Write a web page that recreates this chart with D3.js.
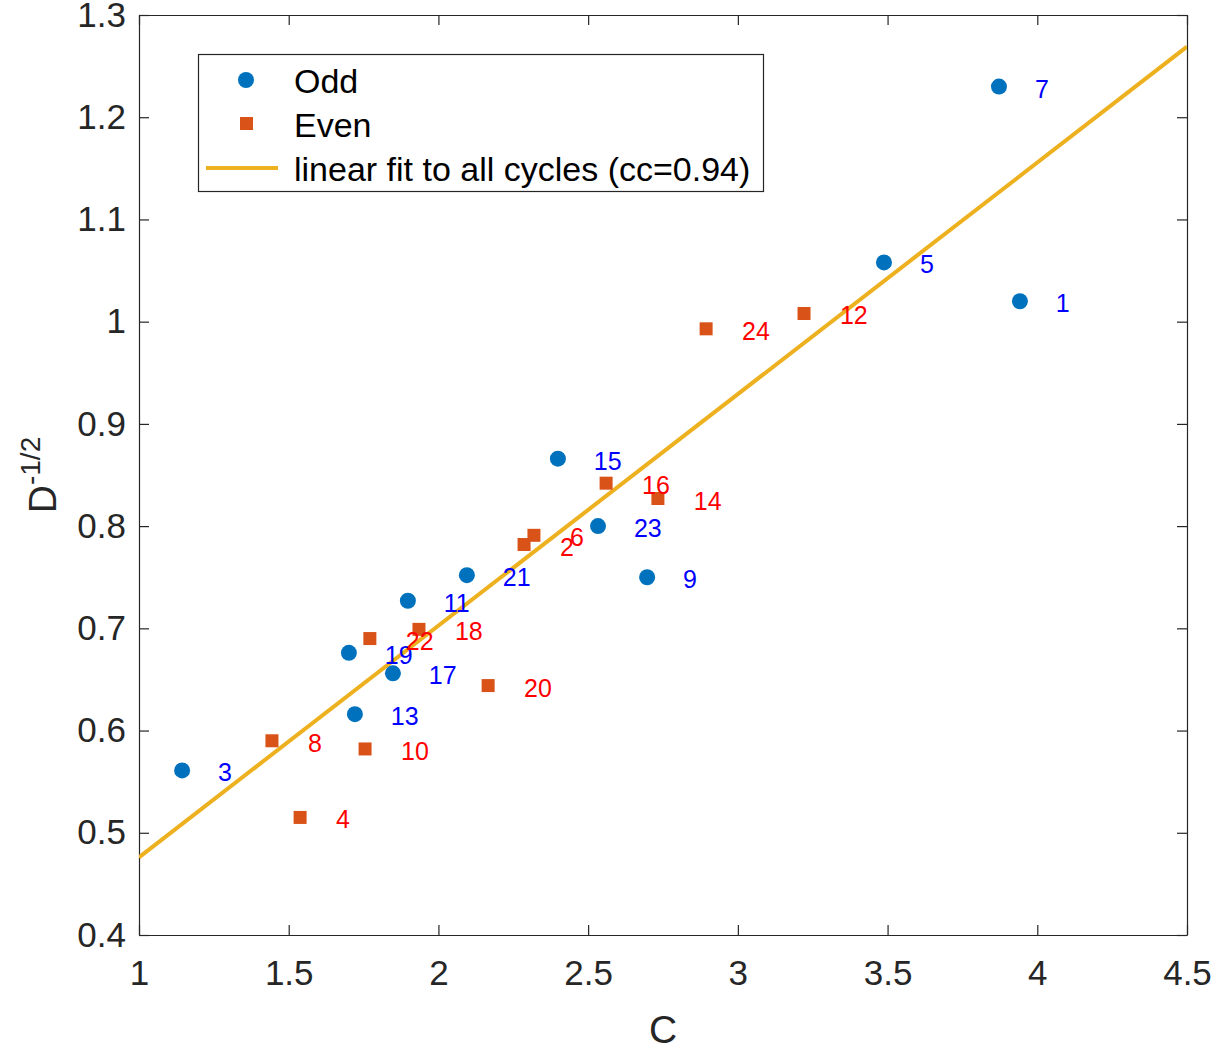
<!DOCTYPE html>
<html>
<head>
<meta charset="utf-8">
<script src="https://cdn.jsdelivr.net/npm/d3@7"></script>
<style>
  body { margin: 0; background: #fff; }
  text { font-family: "Liberation Sans", Arial, sans-serif; }
</style>
</head>
<body>
<div id="chart"></div>
<script>
// Odd cycles
const oddCycles = [1, 3, 5, 7, 9, 11, 13, 15, 17, 19, 21, 23];
const oddC = [3.942, 1.144, 3.488, 3.872, 2.697, 1.898, 1.721, 2.399, 1.848, 1.701, 2.095, 2.533];
const oddD = [1.020, 0.561, 1.058, 1.230, 0.750, 0.727, 0.616, 0.866, 0.656, 0.676, 0.752, 0.800];

// Even cycles
const evenCycles = [2, 4, 6, 8, 10, 12, 14, 16, 18, 20, 22, 24];
const evenC = [2.286, 1.538, 2.319, 1.444, 1.755, 3.221, 2.733, 2.560, 1.935, 2.166, 1.771, 2.894];
const evenD = [0.782, 0.515, 0.791, 0.590, 0.582, 1.008, 0.827, 0.842, 0.699, 0.644, 0.690, 0.993];

// Linear fit end points
const fitC = [1, 4.5];
const fitD = [0.476, 1.269];

const xTicks = [1, 1.5, 2, 2.5, 3, 3.5, 4, 4.5];
const yTicks = [0.4, 0.5, 0.6, 0.7, 0.8, 0.9, 1, 1.1, 1.2, 1.3];

const LEGEND_LABELS = ["Odd", "Even", "linear fit to all cycles (cc=0.94)"];
const LABEL_OFFSET = 0.12;

const AXIS_COLOR = "#262626";
const ODD_COLOR = "#0072BD";
const EVEN_COLOR = "#D95319";
const FIT_COLOR = "#EDB120";

const TICK_FONT = 35;
const LABEL_FONT = 39;

const width = 1231, height = 1050;
const margin = {left: 139, right: 44, top: 15, bottom: 115};

const svg = d3.select("#chart")
    .append("svg")
    .attr("width", width)
    .attr("height", height);

const x = d3.scaleLinear().domain([1, 4.5]).range([margin.left, width - margin.right]);
const y = d3.scaleLinear().domain([0.4, 1.3]).range([height - margin.bottom, margin.top]);

// Axes with inward ticks on all four sides
const tickLen = 10;
const fmt = d => d3.format("")(+d.toFixed(1));

svg.append("g")
    .attr("transform", `translate(0,${y.range()[0]})`)
    .call(d3.axisBottom(x).tickValues(xTicks).tickSizeInner(-tickLen).tickSizeOuter(0).tickPadding(25).tickFormat(fmt))
    .call(g => g.selectAll("text").attr("font-size", TICK_FONT));
svg.append("g")
    .attr("transform", `translate(0,${y.range()[1]})`)
    .call(d3.axisTop(x).tickValues(xTicks).tickSizeInner(-tickLen).tickSizeOuter(0).tickFormat(""));
svg.append("g")
    .attr("transform", `translate(${x.range()[0]},0)`)
    .call(d3.axisLeft(y).tickValues(yTicks).tickSizeInner(-tickLen).tickSizeOuter(0).tickPadding(13).tickFormat(fmt))
    .call(g => g.selectAll("text").attr("font-size", TICK_FONT));
svg.append("g")
    .attr("transform", `translate(${x.range()[1]},0)`)
    .call(d3.axisRight(y).tickValues(yTicks).tickSizeInner(-tickLen).tickSizeOuter(0).tickFormat(""));

svg.selectAll(".domain, .tick line").attr("stroke", AXIS_COLOR).attr("stroke-width", 1.2);
svg.selectAll(".tick text").attr("fill", AXIS_COLOR).attr("font-family", "Liberation Sans, Arial, sans-serif");

// Axis labels
svg.append("text")
    .attr("x", (x.range()[0] + x.range()[1]) / 2)
    .attr("y", 1043)
    .attr("text-anchor", "middle")
    .attr("font-size", LABEL_FONT)
    .attr("fill", AXIS_COLOR)
    .text("C");

const yLab = svg.append("text")
    .attr("transform", `translate(56,${(y.range()[0] + y.range()[1]) / 2}) rotate(-90)`)
    .attr("text-anchor", "middle")
    .attr("font-size", LABEL_FONT)
    .attr("fill", AXIS_COLOR);
yLab.append("tspan").text("D");
yLab.append("tspan").attr("dy", -16).attr("font-size", 28).text("-1/2");

// Plot area clip
svg.append("clipPath").attr("id", "plotClip")
    .append("rect")
    .attr("x", x.range()[0]).attr("y", y.range()[1])
    .attr("width", x.range()[1] - x.range()[0])
    .attr("height", y.range()[0] - y.range()[1]);

// Fit line
svg.append("path")
    .datum(fitC.map((c, i) => [c, fitD[i]]))
    .attr("clip-path", "url(#plotClip)")
    .attr("d", d3.line().x(d => x(d[0])).y(d => y(d[1])))
    .attr("fill", "none")
    .attr("stroke", FIT_COLOR)
    .attr("stroke-width", 4);

const oddData = oddCycles.map((n, i) => ({n, c: oddC[i], d: oddD[i]}));
const evenData = evenCycles.map((n, i) => ({n, c: evenC[i], d: evenD[i]}));

// Odd markers
svg.selectAll(".odd")
    .data(oddData)
    .enter()
    .append("circle")
    .attr("class", "odd")
    .attr("cx", d => x(d.c))
    .attr("cy", d => y(d.d))
    .attr("r", 8)
    .attr("fill", ODD_COLOR);

// Even markers
svg.selectAll(".even")
    .data(evenData)
    .enter()
    .append("rect")
    .attr("class", "even")
    .attr("x", d => x(d.c) - 6.5)
    .attr("y", d => y(d.d) - 6.5)
    .attr("width", 13)
    .attr("height", 13)
    .attr("fill", EVEN_COLOR);

// Cycle number labels
function drawLabels(data, cls, color) {
    svg.selectAll(`.${cls}`)
        .data(data)
        .enter()
        .append("text")
        .attr("class", cls)
        .attr("x", d => x(d.c + LABEL_OFFSET))
        .attr("y", d => y(d.d))
        .attr("dy", "0.44em")
        .attr("font-size", 25)
        .attr("fill", color)
        .text(d => d.n);
}
drawLabels(oddData, "oddLabel", "#0000ff");
drawLabels(evenData, "evenLabel", "#ff0000");

// Legend
const legend = svg.append("g");
legend.append("rect")
    .attr("x", 198.5).attr("y", 54.5)
    .attr("width", 565).attr("height", 137)
    .attr("fill", "#fff")
    .attr("stroke", AXIS_COLOR)
    .attr("stroke-width", 1.2);
legend.append("circle").attr("cx", 246).attr("cy", 80).attr("r", 8).attr("fill", ODD_COLOR);
legend.append("rect").attr("x", 240).attr("y", 117).attr("width", 13).attr("height", 13).attr("fill", EVEN_COLOR);
legend.append("line").attr("x1", 206).attr("x2", 278).attr("y1", 168).attr("y2", 168)
    .attr("stroke", FIT_COLOR).attr("stroke-width", 4);
legend.selectAll(".legendText")
    .data(LEGEND_LABELS)
    .enter()
    .append("text")
    .attr("class", "legendText")
    .attr("x", 294)
    .attr("y", (d, i) => 81 + i * 44)
    .attr("dy", "0.36em")
    .attr("font-size", 34)
    .attr("fill", "#000")
    .text(d => d);
</script>
</body>
</html>
